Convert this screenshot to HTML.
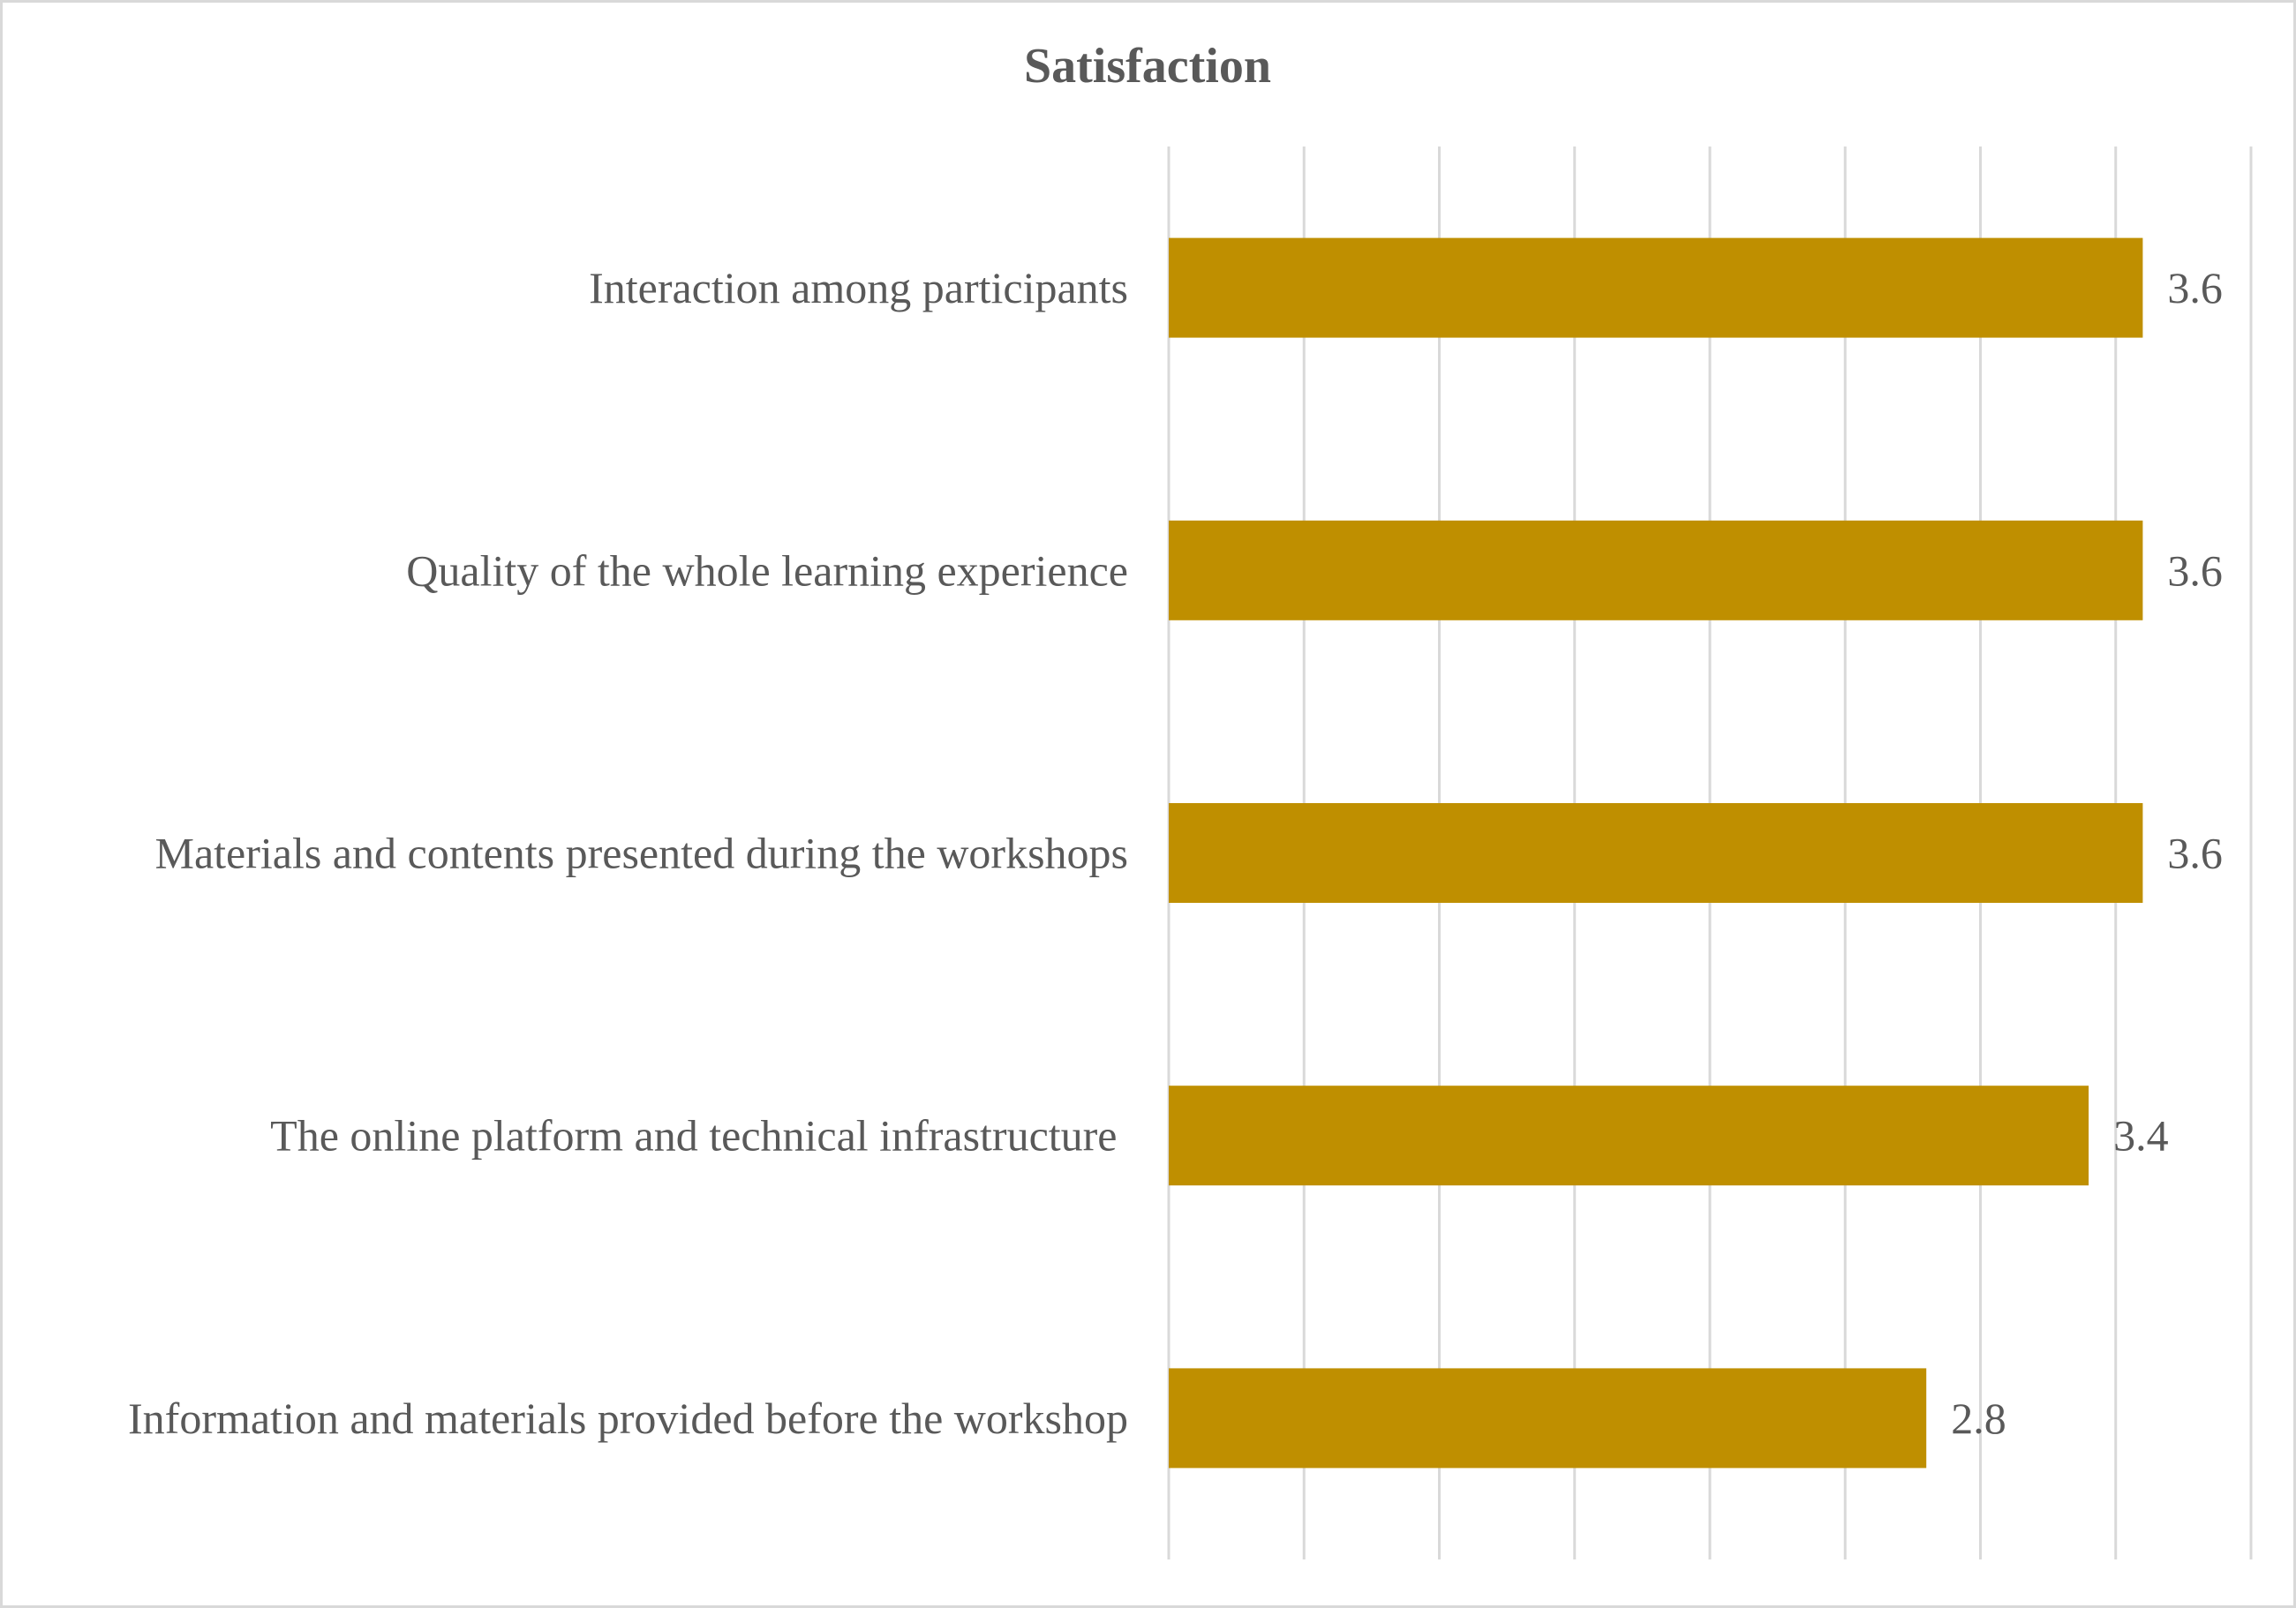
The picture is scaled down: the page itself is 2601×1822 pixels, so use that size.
<!DOCTYPE html>
<html>
<head>
<meta charset="utf-8">
<style>
  html,body{margin:0;padding:0;background:#fff;}
  svg{display:block;}
  text{font-family:"Liberation Serif",serif;fill:#595959;}
</style>
</head>
<body>
<svg id="chart" width="2601" height="1822" viewBox="0 0 2601 1822" xmlns="http://www.w3.org/2000/svg">
  <rect x="1.5" y="1.5" width="2598" height="1819" fill="#fff" stroke="#d9d9d9" stroke-width="3"/>
  <text x="1300" y="93" text-anchor="middle" font-size="56" font-weight="bold">Satisfaction</text>
  <g id="grid"></g>
  <g id="bars"></g>
  <g id="labels"></g>
  <g id="values"></g>
</svg>
<script>
const categories = [
  "Interaction among participants",
  "Quality of the whole learning experience",
  "Materials and contents presented during the workshops",
  "The online platform and technical infrastructure ",
  "Information and materials provided before the workshop"
];
const values = [3.6, 3.6, 3.6, 3.4, 2.8];
const valueLabels = ["3.6", "3.6", "3.6", "3.4", "2.8"];
const gridTicks = [0, 0.5, 1, 1.5, 2, 2.5, 3, 3.5, 4];

const NS = "http://www.w3.org/2000/svg";
const plotLeft = 1324, plotRight = 2550, plotTop = 166, plotBottom = 1767;
const xMin = 0, xMax = 4;
function xScale(v){ return plotLeft + (v - xMin) / (xMax - xMin) * (plotRight - plotLeft); }
const band = (plotBottom - plotTop) / categories.length;
function yCenter(i){ return plotTop + band * (i + 0.5); }
const barH = 113;

const grid = document.getElementById("grid");
gridTicks.forEach(t => {
  const l = document.createElementNS(NS, "line");
  
  
  const x = xScale(t);
  l.setAttribute("x1", x); l.setAttribute("x2", x);
  l.setAttribute("y1", plotTop); l.setAttribute("y2", plotBottom);
  l.setAttribute("stroke", "#d9d9d9"); l.setAttribute("stroke-width", "3");
  grid.appendChild(l);
});

const bars = document.getElementById("bars");
const labels = document.getElementById("labels");
const vals = document.getElementById("values");
categories.forEach((c, i) => {
  const cy = yCenter(i);
  const r = document.createElementNS(NS, "rect");
  
  
  r.setAttribute("x", xScale(0));
  r.setAttribute("y", cy - barH / 2);
  r.setAttribute("width", xScale(values[i]) - xScale(0));
  r.setAttribute("height", barH);
  r.setAttribute("fill", "#BF8F00");
  bars.appendChild(r);

  const t = document.createElementNS(NS, "text");
  
  
  t.setAttribute("x", 1278);
  t.setAttribute("y", cy + 17);
  t.setAttribute("text-anchor", "end");
  t.setAttribute("font-size", "50");
  t.setAttribute("xml:space", "preserve");
  t.style.whiteSpace = "pre";
  t.textContent = c;
  labels.appendChild(t);

  const v = document.createElementNS(NS, "text");
  
  
  v.setAttribute("x", xScale(values[i]) + 28);
  v.setAttribute("y", cy + 17);
  v.setAttribute("font-size", "50");
  v.textContent = valueLabels[i];
  vals.appendChild(v);
});
</script>
</body>
</html>
